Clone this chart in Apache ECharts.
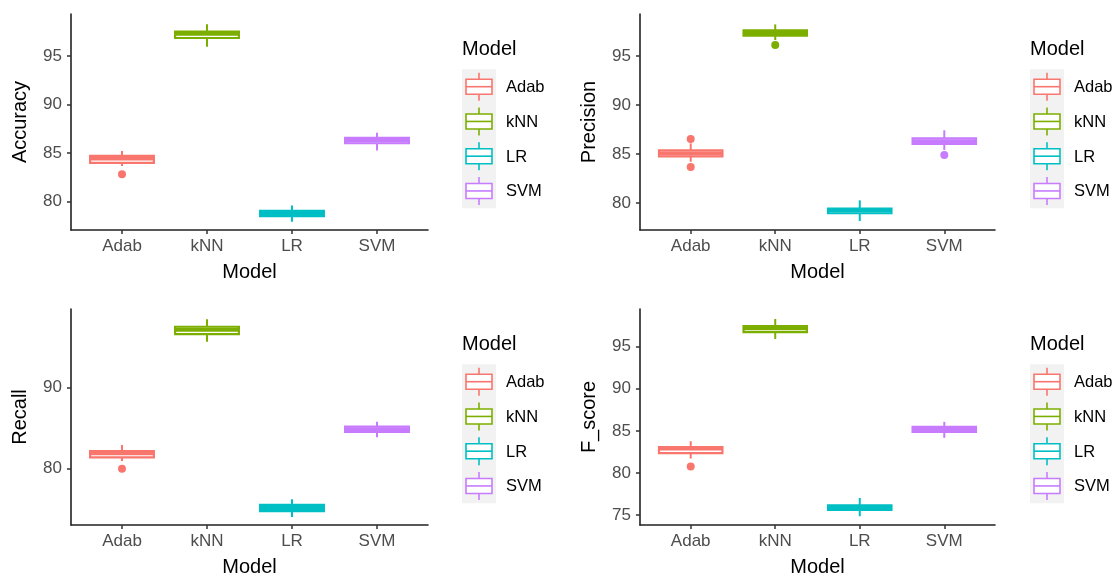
<!DOCTYPE html>
<html><head><meta charset="utf-8">
<script src="https://cdn.jsdelivr.net/npm/echarts@6/dist/echarts.min.js"></script>
<style>html,body{margin:0;padding:0;background:#fff}#c{width:1115px;height:578px}</style>
</head><body><div id="c"></div>
<script>
// ---- data ----
const categories = ['Adab', 'kNN', 'LR', 'SVM'];
const colors = ['#F8766D', '#7CAE00', '#00BFC4', '#C77CFF'];

// boxes: [min, Q1, median, Q3, max] for Adab, kNN, LR, SVM
const accuracyBoxes = [
  [83.68, 83.99, 84.45, 84.71, 85.23],
  [95.96, 96.85, 97.30, 97.50, 98.26],
  [77.95, 78.51, 78.80, 79.06, 79.60],
  [85.26, 86.02, 86.30, 86.57, 87.10]
];
const accuracyOutliers = [[0, 82.83]];   // [model index, value]

const precisionBoxes = [
  [84.21, 84.76, 85.07, 85.38, 86.09],
  [96.63, 97.07, 97.35, 97.62, 98.23],
  [78.16, 78.95, 79.25, 79.42, 80.27],
  [85.41, 86.02, 86.30, 86.60, 87.42]
];
const precisionOutliers = [[0, 86.53], [0, 83.67], [1, 96.12], [3, 84.90]];

const recallBoxes = [
  [80.90, 81.35, 81.85, 82.14, 82.88],
  [95.63, 96.58, 97.10, 97.48, 98.40],
  [74.00, 74.72, 75.10, 75.48, 76.17],
  [83.83, 84.48, 84.81, 85.14, 85.75]
];
const recallOutliers = [[0, 79.95]];

const fscoreBoxes = [
  [81.71, 82.35, 82.90, 83.06, 83.77],
  [95.92, 96.72, 97.20, 97.46, 98.30],
  [74.85, 75.60, 75.88, 76.15, 77.02],
  [84.17, 84.88, 85.17, 85.48, 86.07]
];
const fscoreOutliers = [[0, 80.76]];

const accuracyTicks = [80, 85, 90, 95];
const precisionTicks = [80, 85, 90, 95];
const recallTicks = [80, 90];
const fscoreTicks = [75, 80, 85, 90, 95];

const accuracyRange = [77.09, 99.32];
const precisionRange = [77.24, 99.29];
const recallRange = [73.0, 99.67];
const fscoreRange = [73.81, 99.48];

// ---- layout ----
const FONT = 'Liberation Sans, Arial, Helvetica, sans-serif';
const panels = [
  { name: 'Accuracy', boxes: accuracyBoxes, outliers: accuracyOutliers, ticks: accuracyTicks, range: accuracyRange, left: 71, top: 14, width: 357, legendX: 462 },
  { name: 'Precision', boxes: precisionBoxes, outliers: precisionOutliers, ticks: precisionTicks, range: precisionRange, left: 640, top: 14, width: 355, legendX: 1030 },
  { name: 'Recall', boxes: recallBoxes, outliers: recallOutliers, ticks: recallTicks, range: recallRange, left: 71, top: 309, width: 357, legendX: 462 },
  { name: 'F_score', boxes: fscoreBoxes, outliers: fscoreOutliers, ticks: fscoreTicks, range: fscoreRange, left: 640, top: 309, width: 355, legendX: 1030 }
];
const PANEL_H = 216;
const xTickVals = categories.map((c, i) => i + 1);

function renderBox(params, api) {
  const x = api.value(0);
  const c = colors[Math.round(x) - 1];
  const pLo = api.coord([x, api.value(1)]);
  const pQ1 = api.coord([x, api.value(2)]);
  const pMed = api.coord([x, api.value(3)]);
  const pQ3 = api.coord([x, api.value(4)]);
  const pHi = api.coord([x, api.value(5)]);
  const hw = api.size([0.75, 0])[0] / 2;
  const cx = pMed[0];
  return {
    type: 'group',
    children: [
      { type: 'line', shape: { x1: cx, y1: pHi[1], x2: cx, y2: pQ3[1] }, style: { stroke: c, lineWidth: 2 } },
      { type: 'line', shape: { x1: cx, y1: pQ1[1], x2: cx, y2: pLo[1] }, style: { stroke: c, lineWidth: 2 } },
      { type: 'rect', shape: { x: cx - hw, y: pQ3[1], width: 2 * hw, height: pQ1[1] - pQ3[1] }, style: { fill: '#ffffff', stroke: c, lineWidth: 2.2 } },
      { type: 'line', shape: { x1: cx - hw, y1: pMed[1], x2: cx + hw, y2: pMed[1] }, style: { stroke: c, lineWidth: 4 } }
    ]
  };
}

const grid = [], xAxis = [], yAxis = [], series = [], graphic = [];
panels.forEach((p, i) => {
  grid.push({ left: p.left, top: p.top, width: p.width, height: PANEL_H });
  xAxis.push({
    gridIndex: i, type: 'value', min: 0.4, max: 4.6,
    axisLine: { show: true, onZero: false, lineStyle: { color: '#222', width: 1.6 } },
    axisTick: { show: true, customValues: xTickVals, length: 4, lineStyle: { color: '#333', width: 1.5 } },
    axisLabel: { customValues: xTickVals, formatter: v => categories[Math.round(v) - 1], color: '#4d4d4d', fontSize: 17, fontFamily: FONT, margin: 8 },
    splitLine: { show: false },
    name: 'Model', nameLocation: 'middle', nameGap: 32,
    nameTextStyle: { fontSize: 20, color: '#000', fontFamily: FONT }
  });
  yAxis.push({
    gridIndex: i, type: 'value', min: p.range[0], max: p.range[1],
    axisLine: { show: true, onZero: false, lineStyle: { color: '#222', width: 1.6 } },
    axisTick: { show: true, customValues: p.ticks, length: 4, lineStyle: { color: '#333', width: 1.5 } },
    axisLabel: { customValues: p.ticks, color: '#4d4d4d', fontSize: 17, fontFamily: FONT, margin: 9 },
    splitLine: { show: false },
    name: p.name, nameLocation: 'middle', nameGap: 41,
    nameTextStyle: { fontSize: 20, color: '#000', fontFamily: FONT }
  });
  series.push({
    type: 'custom', xAxisIndex: i, yAxisIndex: i,
    renderItem: renderBox,
    encode: { x: 0, y: [1, 2, 3, 4, 5] },
    data: p.boxes.map((b, k) => [k + 1].concat(b)),
    silent: true
  });
  series.push({
    type: 'scatter', xAxisIndex: i, yAxisIndex: i,
    symbolSize: 8,
    itemStyle: { color: prm => colors[prm.data[0] - 1], opacity: 1 },
    data: p.outliers.map(o => [o[0] + 1, o[1]]),
    silent: true
  });

  // legend (drawn)
  const lx = p.legendX, ly = p.top + 35;
  const children = [
    { type: 'text', x: 0, y: 0, style: { text: 'Model', fontSize: 20, fontFamily: FONT, fill: '#000', verticalAlign: 'middle' } },
    { type: 'rect', shape: { x: 0, y: 20.3, width: 34, height: 139 }, style: { fill: '#f2f2f2' } }
  ];
  categories.forEach((cat, k) => {
    const cy = 20.3 + 34.75 * k + 17.4;
    const c = colors[k];
    children.push(
      { type: 'line', shape: { x1: 17, y1: cy - 14, x2: 17, y2: cy - 7.5 }, style: { stroke: c, lineWidth: 1.6 } },
      { type: 'line', shape: { x1: 17, y1: cy + 7.5, x2: 17, y2: cy + 14 }, style: { stroke: c, lineWidth: 1.6 } },
      { type: 'rect', shape: { x: 4, y: cy - 7.5, width: 26, height: 15 }, style: { fill: '#fff', stroke: c, lineWidth: 1.6 } },
      { type: 'line', shape: { x1: 4, y1: cy, x2: 30, y2: cy }, style: { stroke: c, lineWidth: 1.6 } },
      { type: 'text', x: 44, y: cy + 1, style: { text: cat, fontSize: 16.5, fontFamily: FONT, fill: '#000', verticalAlign: 'middle' } }
    );
  });
  graphic.push({ type: 'group', x: lx, y: ly, children: children, silent: true });
});

const chart = echarts.init(document.getElementById('c'), null, { renderer: 'canvas' });
chart.setOption({
  backgroundColor: '#ffffff',
  animation: false,
  grid, xAxis, yAxis, series, graphic
});
</script>
</body></html>
